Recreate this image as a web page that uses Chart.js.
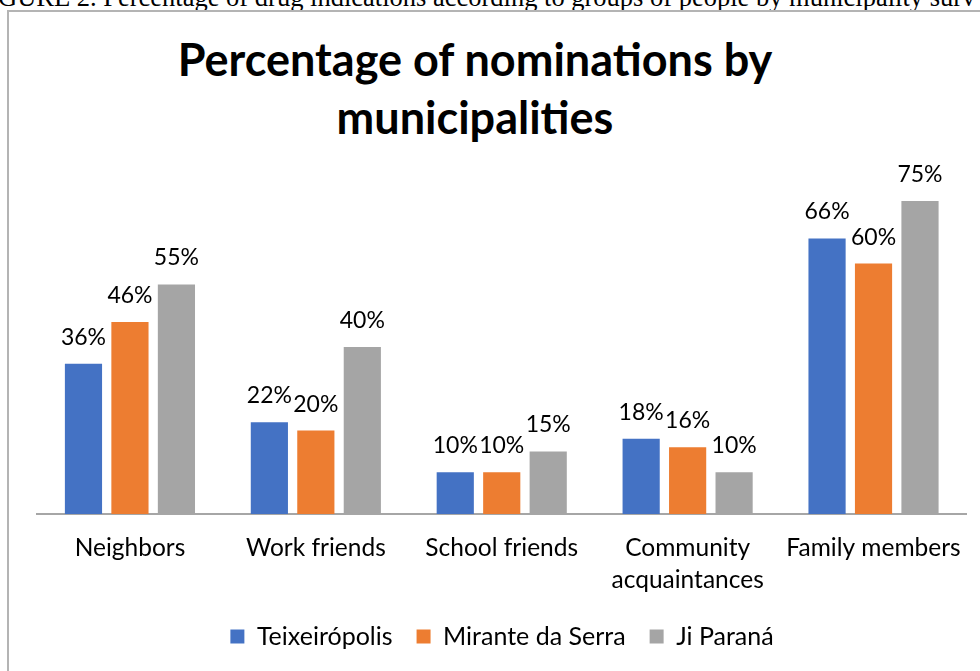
<!DOCTYPE html>
<html>
    <head>
        <title>Nominations by municipalities</title>
        <style>
            body { margin: 0; background: white; }
            #wrap { position: relative; width: 980px; height: 671px; overflow: hidden; }
            #caption {
                position: absolute; left: -2px; top: -15px; width: 1100px;
                font-family: "Liberation Serif", serif; font-size: 26.5px; line-height: 24px;
                white-space: nowrap; color: #000;
            }
            #frame {
                position: absolute; left: 7px; top: 10px; width: 1000px; height: 700px;
                border-left: 2px solid #b4b4b4; border-top: 2px solid #b4b4b4;
            }
            #charttitle {
                position: absolute; left: 8px; top: 30px; width: 934px; text-align: center;
                font-family: Lato, sans-serif; font-weight: bold; font-size: 45px; line-height: 58px; color: #000;
            }
            #chartbox { position: absolute; left: 0; top: 0; width: 980px; height: 671px; }
        </style>
    </head>
    <body>
        <div id="wrap">
            <div id="caption">GURE 2. Percentage of drug indications according to groups of people by municipality surv</div>
            <div id="frame"></div>
            <div id="charttitle">Percentage of nominations by<br>municipalities</div>
            <div id="chartbox"><canvas id="chartcanvas"></canvas></div>
        </div>

        <script src="https://cdn.jsdelivr.net/npm/chart.js@4.4.1/dist/chart.umd.min.js"></script>

        <script>
            // groups of people
            const categories = ['Neighbors', 'Work friends', 'School friends', ['Community', 'acquaintances'], 'Family members'];

            // municipalities (percent)
            const teixeiropolis = [36, 22, 10, 18, 66];
            const mirante = [46, 20, 10, 16, 60];
            const jiparana = [55, 40, 15, 10, 75];

            const seriesNames = ['Teixeirópolis', 'Mirante da Serra', 'Ji Paraná'];
            const seriesColors = ['#4472C4', '#ED7D31', '#A5A5A5'];

            const yMin = 0;
            const yMax = 80;

            const fontFam = 'Lato, sans-serif';

            // percent labels above each bar
            const barLabels = {
                id: 'barLabels',
                afterDatasetsDraw(chart) {
                    const c = chart.ctx;
                    c.save();
                    c.font = '23px ' + fontFam;
                    c.fillStyle = '#000';
                    c.textAlign = 'center';
                    c.textBaseline = 'alphabetic';
                    chart.data.datasets.forEach(function (ds, i) {
                        chart.getDatasetMeta(i).data.forEach(function (bar, j) {
                            c.fillText(ds.data[j] + '%', bar.x, bar.y - 19);
                        });
                    });
                    c.restore();
                }
            };

            const ctx = document.getElementById('chartcanvas');

            var chart = new Chart(ctx, {
                type: 'bar',
                data: {
                    labels: categories,
                    datasets: [
                        { label: seriesNames[0], data: teixeiropolis, backgroundColor: seriesColors[0] },
                        { label: seriesNames[1], data: mirante, backgroundColor: seriesColors[1] },
                        { label: seriesNames[2], data: jiparana, backgroundColor: seriesColors[2] }
                    ]
                },
                options: {
                    responsive: true,
                    maintainAspectRatio: false,
                    animation: false,
                    datasets: {
                        bar: { categoryPercentage: 0.75, barPercentage: 0.8 }
                    },
                    layout: {
                        padding: { top: 180, left: 37, right: 13, bottom: 12 }
                    },
                    scales: {
                        y: {
                            display: false,
                            min: yMin,
                            max: yMax
                        },
                        x: {
                            grid: { display: false, drawTicks: false },
                            border: { display: true, color: '#a6a6a6', width: 2 },
                            ticks: {
                                color: '#000',
                                padding: 18,
                                font: { family: fontFam, size: 24.5, lineHeight: 1.3 }
                            },
                            afterFit: function (scale) { scale.height = 86; }
                        }
                    },
                    plugins: {
                        legend: {
                            position: 'bottom',
                            labels: {
                                color: '#000',
                                boxWidth: 14,
                                boxHeight: 14,
                                padding: 24,
                                font: { family: fontFam, size: 25 }
                            }
                        },
                        tooltip: { enabled: false }
                    }
                },
                plugins: [barLabels]
            });
        </script>
    </body>
</html>
